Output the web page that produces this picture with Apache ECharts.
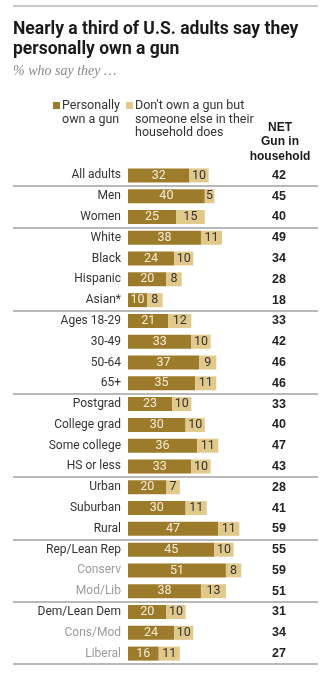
<!DOCTYPE html>
<html>
<head>
<meta charset="utf-8">
<script src="https://cdn.jsdelivr.net/npm/echarts@6/dist/echarts.min.js"></script>
<style>
  html, body { margin: 0; padding: 0; background: #fff; }
  #chart { width: 324px; height: 674px; }
</style>
</head>
<body>
<div id="chart"></div>
<script>
// Survey groups, top to bottom
const categories = ['All adults', 'Men', 'Women', 'White', 'Black', 'Hispanic', 'Asian*',
  'Ages 18-29', '30-49', '50-64', '65+', 'Postgrad', 'College grad', 'Some college', 'HS or less',
  'Urban', 'Suburban', 'Rural', 'Rep/Lean Rep', 'Conserv', 'Mod/Lib', 'Dem/Lean Dem', 'Cons/Mod', 'Liberal'];

// % who personally own a gun
const personallyOwn = [32, 40, 25, 38, 24, 20, 10, 21, 33, 37, 35, 23, 30, 36, 33, 20, 30, 47, 45, 51, 38, 20, 24, 16];

// % who don't own one but someone else in the household does
const householdOnly = [10, 5, 15, 11, 10, 8, 8, 12, 10, 9, 11, 10, 10, 11, 10, 7, 11, 11, 10, 8, 13, 10, 10, 11];

// NET: gun in household
const netInHousehold = [42, 45, 40, 49, 34, 28, 18, 33, 42, 46, 46, 33, 40, 47, 43, 28, 41, 59, 55, 59, 51, 31, 34, 27];

// Partisan sub-groups shown in lighter text
const subgroupRows = ['Conserv', 'Mod/Lib', 'Cons/Mod', 'Liberal'];

// Rows followed by a divider line
const dividerAfter = ['All adults', 'Women', 'Asian*', '65+', 'HS or less', 'Rural', 'Mod/Lib'];

const legendNames = ['Personally\nown a gun', "Don't own a gun but\nsomeone else in their\nhousehold does"];

const DARK = '#9c7b2b';
const LIGHT = '#e1c98c';
const FONT = 'Roboto';

const chart = echarts.init(document.getElementById('chart'), null, { renderer: 'canvas' });

const gridTop = 165;
const gridHeight = 499;

const option = {
  animation: false,
  backgroundColor: '#fff',
  textStyle: { fontFamily: FONT },
  grid: [
    { left: 128, right: 4, top: gridTop, height: gridHeight },
    { left: 13, right: 6, top: gridTop, height: gridHeight }
  ],
  xAxis: [
    { gridIndex: 0, type: 'value', min: 0, max: 100, show: false },
    { gridIndex: 1, type: 'value', min: 0, max: 100, show: false }
  ],
  yAxis: [
    {
      gridIndex: 0, type: 'category', inverse: true, data: categories,
      axisLine: { show: false }, axisTick: { show: false }, splitLine: { show: false },
      axisLabel: {
        margin: 7, fontSize: 12, fontFamily: FONT,
        formatter: v => subgroupRows.includes(v) ? '{sub|' + v + '}' : '{main|' + v + '}',
        rich: {
          main: { color: '#333', fontSize: 12, fontFamily: FONT },
          sub: { color: '#9a9a9a', fontSize: 12, fontFamily: FONT }
        }
      }
    },
    {
      gridIndex: 0, type: 'category', inverse: true, position: 'right',
      data: netInHousehold.map(String),
      axisLine: { show: false }, axisTick: { show: false }, splitLine: { show: false },
      axisLabel: {
        inside: true, align: 'center', margin: 41,
        fontSize: 12.5, fontWeight: 'bold', color: '#222', fontFamily: 'Liberation Sans'
      }
    },
    {
      gridIndex: 1, type: 'category', inverse: true, data: categories,
      axisLine: { show: false }, axisTick: { show: false }, axisLabel: { show: false },
      splitLine: {
        show: true,
        interval: (idx) => idx > 0 && dividerAfter.includes(categories[idx - 1]),
        lineStyle: { color: '#a0a0a0', width: 1.5 }
      }
    }
  ],
  series: [
    {
      name: legendNames[0], type: 'bar', stack: 'gun', xAxisIndex: 0, yAxisIndex: 0,
      barWidth: 14, data: personallyOwn, itemStyle: { color: DARK },
      label: { show: true, position: 'inside', color: '#f4ecd6', fontSize: 12.5, fontFamily: FONT }
    },
    {
      name: legendNames[1], type: 'bar', stack: 'gun', xAxisIndex: 0, yAxisIndex: 0,
      barWidth: 14, data: householdOnly, itemStyle: { color: LIGHT },
      label: { show: true, position: 'inside', color: '#333', fontSize: 12.5, fontFamily: FONT }
    }
  ],
  graphic: [
    { type: 'line', shape: { x1: 13, y1: 6, x2: 318, y2: 6 }, style: { stroke: '#c8c8c8', lineWidth: 2 } },
    {
      type: 'text', left: 13, top: 19,
      style: {
        text: 'Nearly a third of U.S. adults say they\npersonally own a gun',
        fontFamily: 'Roboto', fontWeight: 'bold', fontSize: 17.5, lineHeight: 20.5, fill: '#1a1a1a'
      }
    },
    {
      type: 'text', left: 13, top: 64,
      style: { text: '% who say they …', fontFamily: 'Liberation Serif', fontStyle: 'italic', fontSize: 14, fill: '#8a8a8a' }
    },
    { type: 'rect', shape: { x: 53, y: 102, width: 7, height: 7 }, style: { fill: DARK } },
    {
      type: 'text', x: 62, y: 99.5,
      style: { text: legendNames[0], fontFamily: FONT, fontSize: 12.5, lineHeight: 13.3, fill: '#333' }
    },
    { type: 'rect', shape: { x: 126, y: 102, width: 7, height: 7 }, style: { fill: LIGHT } },
    {
      type: 'text', x: 135, y: 99.5,
      style: { text: legendNames[1], fontFamily: FONT, fontSize: 12.5, lineHeight: 13.3, fill: '#333' }
    },
    {
      type: 'text', x: 280, y: 120,
      style: {
        text: 'NET\nGun in\nhousehold', align: 'center', fontFamily: 'Liberation Sans',
        fontWeight: 'bold', fontSize: 12, lineHeight: 14.5, fill: '#1a1a1a'
      }
    }
  ]
};

chart.setOption(option);
</script>
</body>
</html>
